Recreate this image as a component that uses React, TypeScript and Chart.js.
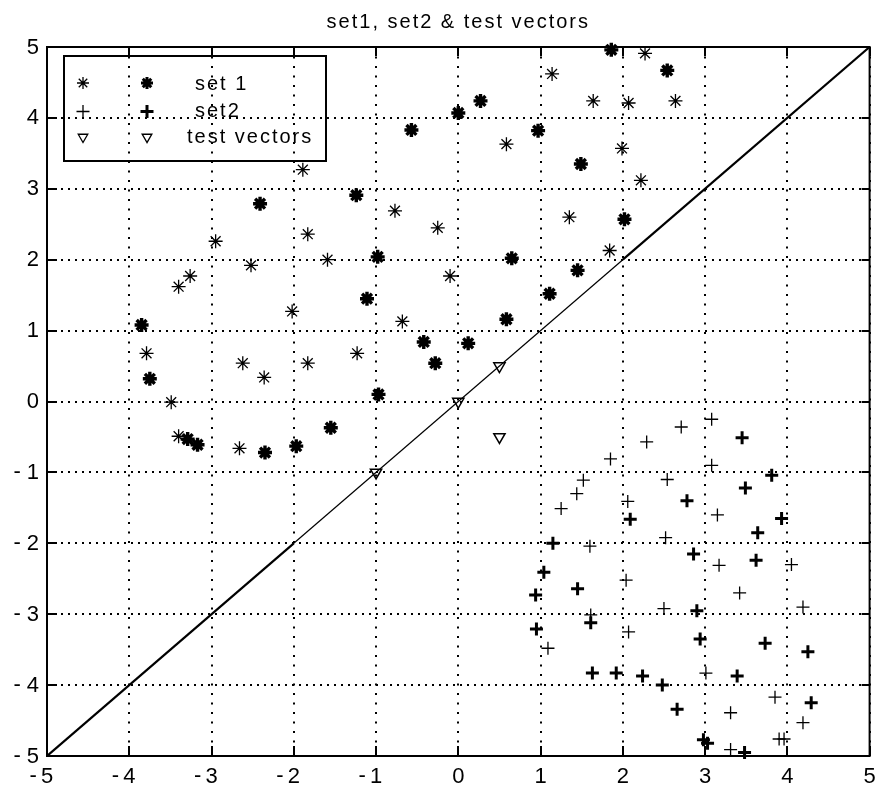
import React, { useEffect, useRef } from 'react';
import { Chart, registerables } from 'chart.js';

Chart.register(...registerables);

const titleText = 'set1, set2 & test vectors';
const legendLabels = ['set 1', 'set2', 'test vectors'];
const xTickValues = [-5, -4, -3, -2, -1, 0, 1, 2, 3, 4, 5];
const yTickValues = [-5, -4, -3, -2, -1, 0, 1, 2, 3, 4, 5];

// set 1 (asterisks), lighter strokes
const set1Thin: [number, number][] = [
  [-1.89, 3.27], [0.585, 3.63], [1.14, 4.62], [1.64, 4.24], [1.99, 3.57],
  [2.07, 4.21], [2.22, 3.12], [2.27, 4.91], [2.64, 4.24], [-0.77, 2.69],
  [-0.25, 2.45], [-2.95, 2.26], [-1.83, 2.36], [-2.52, 1.92], [-1.59, 2.0],
  [-3.4, 1.62], [-3.26, 1.77], [-2.02, 1.27], [-0.68, 1.13], [-3.79, 0.68],
  [-2.62, 0.54], [-1.83, 0.54], [-1.23, 0.68], [-2.36, 0.34], [-3.49, -0.01],
  [-3.4, -0.49], [-2.66, -0.66], [1.35, 2.6], [1.84, 2.13], [-0.1, 1.77],
];

// set 1 (asterisks), heavier strokes
const set1Bold: [number, number][] = [
  [-1.24, 2.91], [-0.57, 3.83], [0.0, 4.07], [0.27, 4.24], [0.97, 3.82],
  [1.49, 3.35], [1.86, 4.96], [2.54, 4.67], [-2.41, 2.79], [-0.98, 2.04],
  [-1.11, 1.45], [-3.85, 1.08], [-0.42, 0.84], [-0.28, 0.54], [-3.75, 0.32],
  [-0.97, 0.1], [-1.55, -0.37], [-3.29, -0.53], [-3.17, -0.61], [-2.35, -0.72],
  [-1.97, -0.63], [2.02, 2.57], [0.65, 2.02], [1.45, 1.85], [1.11, 1.52],
  [0.585, 1.16], [0.12, 0.82],
];

// set 2 (plus signs), lighter strokes
const set2Thin: [number, number][] = [
  [3.08, -0.25], [2.71, -0.36], [2.29, -0.57], [1.85, -0.81], [3.08, -0.9],
  [1.52, -1.11], [2.54, -1.1], [1.44, -1.3], [2.06, -1.41], [1.25, -1.51],
  [3.15, -1.6], [2.52, -1.92], [1.6, -2.04], [3.17, -2.31], [4.05, -2.3],
  [2.04, -2.52], [3.42, -2.7], [2.5, -2.92], [4.19, -2.9], [1.61, -3.01],
  [1.09, -3.48], [2.07, -3.25], [3.01, -3.83], [3.31, -4.39], [3.85, -4.17],
  [4.19, -4.53], [3.9, -4.76], [3.96, -4.76], [3.31, -4.91],
];

// set 2 (plus signs), heavier strokes
const set2Bold: [number, number][] = [
  [3.45, -0.51], [3.81, -1.04], [3.49, -1.22], [2.78, -1.4], [2.09, -1.66],
  [3.93, -1.65], [3.64, -1.85], [1.15, -2.0], [2.86, -2.15], [3.62, -2.24],
  [1.04, -2.41], [1.45, -2.64], [0.94, -2.73], [2.9, -2.95], [1.61, -3.12],
  [0.95, -3.21], [2.94, -3.35], [3.73, -3.41], [4.25, -3.53], [1.63, -3.83],
  [1.92, -3.83], [2.24, -3.87], [3.39, -3.87], [2.48, -4.0], [2.66, -4.34],
  [4.29, -4.25], [2.98, -4.77], [3.03, -4.82], [3.48, -4.95],
];

const testVectors: [number, number][] = [
  [0.5, 0.5], [0, 0], [0.5, -0.5], [-1, -1],
];

// separating line y = x (breakpoints where the drawn stroke changes look)
const separatorLine: [number, number][] = [
  [-5, -5], [-2, -2], [2, 2], [5, 5],
];

const toXY = (arr: [number, number][]) => arr.map(([x, y]) => ({ x, y }));

const FONT = '"Liberation Sans", Arial, Helvetica, sans-serif';

function drawStar(ctx: CanvasRenderingContext2D, x: number, y: number, r: number) {
  ctx.beginPath();
  for (let k = 0; k < 4; k++) {
    const a = (k * Math.PI) / 4;
    ctx.moveTo(x - Math.cos(a) * r, y - Math.sin(a) * r);
    ctx.lineTo(x + Math.cos(a) * r, y + Math.sin(a) * r);
  }
  ctx.stroke();
}
function drawCross(ctx: CanvasRenderingContext2D, x: number, y: number, r: number) {
  ctx.beginPath();
  ctx.moveTo(x - r, y);
  ctx.lineTo(x + r, y);
  ctx.moveTo(x, y - r);
  ctx.lineTo(x, y + r);
  ctx.stroke();
}
function drawTriDown(ctx: CanvasRenderingContext2D, x: number, y: number, r: number) {
  const s = Math.sin(Math.PI / 3) * r;
  ctx.beginPath();
  ctx.moveTo(x, y + r);
  ctx.lineTo(x - s, y - r / 2);
  ctx.lineTo(x + s, y - r / 2);
  ctx.closePath();
  ctx.stroke();
}

const matlabFrame = {
  id: 'matlabFrame',
  afterDraw(chart: any) {
    const { ctx, chartArea: a, scales } = chart;
    const xs = scales.x;
    const ys = scales.y;
    ctx.save();
    ctx.strokeStyle = '#000';
    ctx.fillStyle = '#000';

    // box
    ctx.lineWidth = 2;
    ctx.strokeRect(a.left, a.top, a.right - a.left, a.bottom - a.top);

    // inward ticks on all sides
    ctx.lineWidth = 2;
    ctx.beginPath();
    xTickValues.forEach((v) => {
      const px = Math.round(xs.getPixelForValue(v));
      ctx.moveTo(px, a.bottom);
      ctx.lineTo(px, a.bottom - 10);
      ctx.moveTo(px, a.top);
      ctx.lineTo(px, a.top + 9);
    });
    yTickValues.forEach((v) => {
      const py = Math.round(ys.getPixelForValue(v));
      ctx.moveTo(a.left, py);
      ctx.lineTo(a.left + 10, py);
      ctx.moveTo(a.right, py);
      ctx.lineTo(a.right - 8, py);
    });
    ctx.stroke();

    // tick labels
    ctx.font = `22px ${FONT}`;
    ctx.textBaseline = 'middle';
    xTickValues.forEach((v) => {
      const px = xs.getPixelForValue(v);
      const digits = String(Math.abs(v));
      const w = ctx.measureText(digits).width;
      ctx.textAlign = 'center';
      ctx.fillText(digits, px, a.bottom + 21);
      if (v < 0) {
        ctx.textAlign = 'right';
        ctx.fillText('-', px - w / 2 - 4, a.bottom + 20);
      }
    });
    yTickValues.forEach((v) => {
      const py = ys.getPixelForValue(v);
      const digits = String(Math.abs(v));
      const w = ctx.measureText(digits).width;
      ctx.textAlign = 'right';
      ctx.fillText(digits, a.left - 8, py + 0.5);
      if (v < 0) {
        ctx.fillText('-', a.left - 8 - w - 6, py - 0.5);
      }
    });

    // title
    (ctx as any).letterSpacing = '2px';
    ctx.font = `20px ${FONT}`;
    ctx.textAlign = 'center';
    ctx.textBaseline = 'alphabetic';
    ctx.fillText(titleText, (a.left + a.right) / 2, 28);

    // legend box (transparent)
    ctx.lineWidth = 2;
    ctx.strokeRect(64, 56, 262, 105);
    const rows = [83, 111.5, 137];
    const textBase = [90, 116.5, 143];
    const textX = [195, 195, 187];
    // markers
    ctx.lineWidth = 1.3;
    drawStar(ctx, 83, rows[0], 6);
    drawCross(ctx, 83, rows[1], 6.5);
    drawTriDown(ctx, 83, rows[2], 5.5);
    ctx.lineWidth = 3;
    drawStar(ctx, 147, rows[0], 6);
    drawCross(ctx, 147, rows[1], 6.5);
    ctx.lineWidth = 1.4;
    drawTriDown(ctx, 147, rows[2], 5.5);
    ctx.textAlign = 'left';
    legendLabels.forEach((t, i) => ctx.fillText(t, textX[i], textBase[i]));
    (ctx as any).letterSpacing = '0px';
    ctx.restore();
  },
};

export default function App() {
  const ref = useRef<HTMLCanvasElement | null>(null);
  useEffect(() => {
    if (!ref.current) return;
    const chart = new Chart(ref.current, {
      type: 'scatter',
      data: {
        datasets: [
          {
            type: 'line',
            data: toXY(separatorLine),
            borderColor: '#000',
            borderWidth: 1,
            pointRadius: 0,
            fill: false,
            tension: 0,
            segment: {
              borderWidth: (c: any) => (c.p0DataIndex === 1 ? 1.2 : 2.2),
            },
          } as any,
          {
            data: toXY(set1Thin),
            pointStyle: 'star',
            radius: 7,
            borderWidth: 1.3,
            borderColor: '#000',
            backgroundColor: 'rgba(0,0,0,0)',
            clip: false,
          } as any,
          {
            data: toXY(set1Bold),
            pointStyle: 'star',
            radius: 7,
            borderWidth: 3.4,
            borderColor: '#000',
            backgroundColor: 'rgba(0,0,0,0)',
            clip: false,
          } as any,
          {
            data: toXY(set2Thin),
            pointStyle: 'cross',
            radius: 6.5,
            borderWidth: 1.3,
            borderColor: '#000',
            backgroundColor: 'rgba(0,0,0,0)',
            clip: false,
          } as any,
          {
            data: toXY(set2Bold),
            pointStyle: 'cross',
            radius: 6.5,
            borderWidth: 3,
            borderColor: '#000',
            backgroundColor: 'rgba(0,0,0,0)',
            clip: false,
          } as any,
          {
            data: toXY(testVectors),
            pointStyle: 'triangle',
            rotation: 180,
            radius: 6.5,
            borderWidth: 1.5,
            borderColor: '#000',
            backgroundColor: 'rgba(0,0,0,0)',
            clip: false,
          } as any,
        ],
      },
      options: {
        animation: false,
        responsive: false,
        events: [],
        layout: { padding: { left: 47, right: 7, top: 47, bottom: 37 } },
        plugins: {
          legend: { display: false },
          tooltip: { enabled: false },
          title: { display: false },
        },
        scales: {
          x: {
            type: 'linear',
            min: -5,
            max: 5,
            afterBuildTicks: (s: any) => {
              s.ticks = xTickValues.map((v) => ({ value: v }));
            },
            ticks: { display: false },
            grid: { color: '#000', lineWidth: 2, drawTicks: false },
            border: { display: false, dash: [2, 7.5] },
          },
          y: {
            type: 'linear',
            min: -5,
            max: 5,
            afterBuildTicks: (s: any) => {
              s.ticks = yTickValues.map((v) => ({ value: v }));
            },
            ticks: { display: false },
            grid: { color: '#000', lineWidth: 2, drawTicks: false },
            border: { display: false, dash: [2, 5] },
          },
        },
      } as any,
      plugins: [matlabFrame],
    });
    return () => chart.destroy();
  }, []);

  return (
    <div style={{ position: 'fixed', left: 0, top: 0, width: 880, height: 793, background: '#fff' }}>
      <canvas ref={ref} width={880} height={793} style={{ display: 'block' }} />
    </div>
  );
}
